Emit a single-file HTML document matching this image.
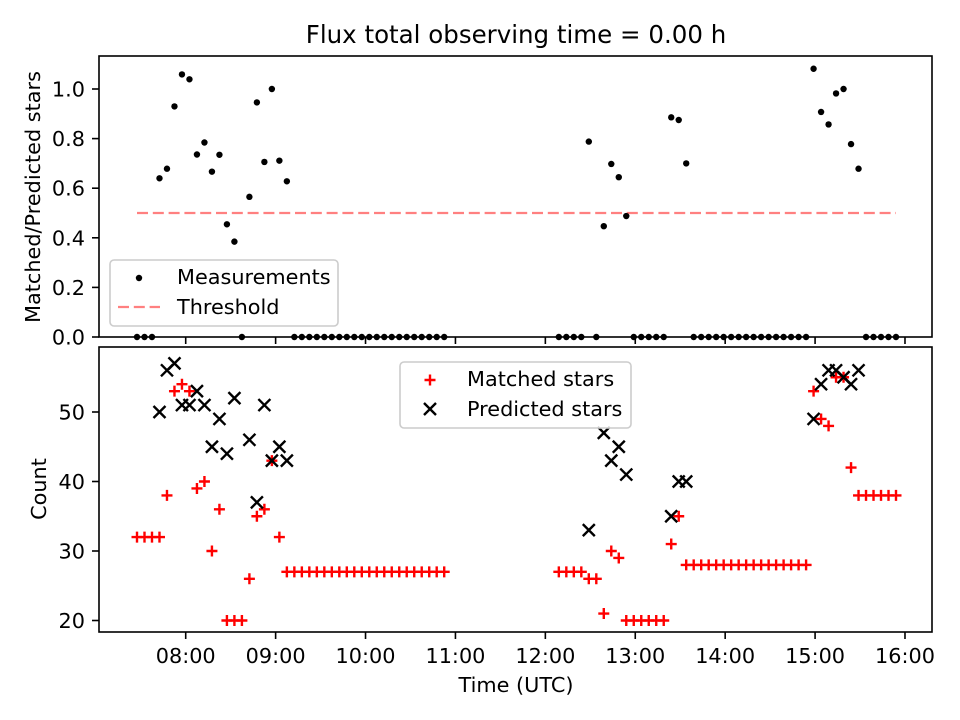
<!DOCTYPE html>
<html><head><meta charset="utf-8"><style>
html,body{margin:0;padding:0;background:#fff;}
svg{display:block;font-family:"DejaVu Sans","Liberation Sans",sans-serif;}
</style></head><body>
<svg id="chart" width="960" height="720" viewBox="0 0 960 720" xmlns="http://www.w3.org/2000/svg">
<rect width="960" height="720" fill="#fff"/>
<text x="516" y="43" font-size="24.5" text-anchor="middle" fill="#000">Flux total observing time = 0.00 h</text>
<g id="topPanel"></g>
<g id="botPanel"></g>
</svg>
<script>
// times in minutes after 07:00
const times = [27.5,32.5,37.5,42.5,47.5,52.5,57.5,62.5,67.5,72.5,77.5,82.5,87.5,92.5,97.5,102.5,107.5,112.5,117.5,122.5,127.5,132.5,137.5,142.5,147.5,152.5,157.5,162.5,167.5,172.5,177.5,182.5,187.5,192.5,197.5,202.5,207.5,212.5,217.5,222.5,227.5,232.5,
309,314,319,324,329,334,339,344,349,354,359,364,369,374,379,384,389,394,399,404,409,414,419,424,429,434,439,444,449,454,459,464,469,474,479,484,489,494,499,504,509,514,519,524,529,534];
const matched = [32,32,32,32,38,53,54,53,39,40,30,36,20,20,20,26,35,36,43,32,27,27,27,27,27,27,27,27,27,27,27,27,27,27,27,27,27,27,27,27,27,27,
27,27,27,27,26,26,21,30,29,20,20,20,20,20,20,31,35,28,28,28,28,28,28,28,28,28,28,28,28,28,28,28,28,28,53,49,48,55,55,42,38,38,38,38,38,38];
const predicted = [0,0,0,50,56,57,51,51,53,51,45,49,44,52,0,46,37,51,43,45,43,0,0,0,0,0,0,0,0,0,0,0,0,0,0,0,0,0,0,0,0,0,
0,0,0,0,33,0,47,43,45,41,0,0,0,0,0,35,40,40,0,0,0,0,0,0,0,0,0,0,0,0,0,0,0,0,49,54,56,56,55,54,56,0,0,0,0,0];
const threshold = 0.5;
const xTickLabels = ["08:00","09:00","10:00","11:00","12:00","13:00","14:00","15:00","16:00"];
const xTickMinutes = [60,120,180,240,300,360,420,480,540];
const topTicks = [0.0,0.2,0.4,0.6,0.8,1.0];
const botTicks = [20,30,40,50];

const NS="http://www.w3.org/2000/svg";
const L=99,R=932, T1=56,B1=337, T2=347,B2=632;
const xS = t => 95.8 + t*1.4985;
const yTop = v => 337 - v*248;
const yBot = v => 620.5 - (v-20)*6.95;
function mk(parent,tag,attrs){const e=document.createElementNS(NS,tag);for(const k in attrs)e.setAttribute(k,attrs[k]);parent.appendChild(e);return e;}
const topG=document.getElementById('topPanel'), botG=document.getElementById('botPanel');

const defs=mk(document.getElementById('chart'),'defs',{});
const c1=mk(defs,'clipPath',{id:'c1'});mk(c1,'rect',{x:L,y:T1-4,width:R-L,height:B1-T1+8});
const c2=mk(defs,'clipPath',{id:'c2'});mk(c2,'rect',{x:L,y:T2,width:R-L,height:B2-T2});

// ---- top panel ----
const thr=mk(topG,'line',{x1:xS(times[0]),x2:xS(times[times.length-1]),y1:yTop(threshold),y2:yTop(threshold),stroke:'#ff8080','stroke-width':2.2,'stroke-dasharray':'11,4.8'});


const g1=mk(topG,'g',{'clip-path':'url(#c1)'});
for(let i=0;i<times.length;i++){
  const r = predicted[i]>0 ? matched[i]/predicted[i] : 0;
  const d=mk(g1,'circle',{cx:xS(times[i]),cy:yTop(r),r:3.2,fill:'#000'});
  
  
}
mk(topG,'rect',{x:L,y:T1,width:R-L,height:B1-T1,fill:'none',stroke:'#000','stroke-width':1.6});
topTicks.forEach(v=>{
  const y=yTop(v);
  mk(topG,'line',{x1:L-7,x2:L,y1:y,y2:y,stroke:'#000','stroke-width':1.6});
  const t=mk(topG,'text',{x:85,y:y+7.5,'font-size':20.8,'text-anchor':'end'});t.textContent=v.toFixed(1);
  
  
});
xTickMinutes.forEach(m=>{const x=xS(m);mk(topG,'line',{x1:x,x2:x,y1:B1,y2:B1+7,stroke:'#000','stroke-width':1.6});});
const yl1=mk(topG,'text',{x:0,y:0,'font-size':20.8,'text-anchor':'middle',transform:'translate(40,197) rotate(-90)'});yl1.textContent='Matched/Predicted stars';


const lg1=mk(topG,'g',{});


mk(lg1,'rect',{x:110,y:260,width:228,height:66,rx:4,fill:'#fff','fill-opacity':0.8,stroke:'#ccc','stroke-width':1.6});
mk(lg1,'circle',{cx:139,cy:278,r:3.2,fill:'#000'});
let tt=mk(lg1,'text',{x:177,y:284,'font-size':20.8});tt.textContent='Measurements';
mk(lg1,'line',{x1:118,x2:160,y1:307,y2:307,stroke:'#ff8080','stroke-width':2.2,'stroke-dasharray':'11,4.8'});
tt=mk(lg1,'text',{x:177,y:314,'font-size':20.8});tt.textContent='Threshold';

// ---- bottom panel ----
const g2=mk(botG,'g',{'clip-path':'url(#c2)'});
for(let i=0;i<times.length;i++){
  const x=xS(times[i]), y=yBot(matched[i]);
  const p=mk(g2,'path',{d:`M${x-5.5},${y}H${x+5.5}M${x},${y-5.5}V${y+5.5}`,stroke:'#f00','stroke-width':2.4,fill:'none'});
  
  
}
for(let i=0;i<times.length;i++){
  if(predicted[i]<=0) continue;
  const x=xS(times[i]), y=yBot(predicted[i]);
  const p=mk(g2,'path',{d:`M${x-6},${y-6}L${x+6},${y+6}M${x-6},${y+6}L${x+6},${y-6}`,stroke:'#000','stroke-width':2.4,fill:'none'});
  
  
}
mk(botG,'rect',{x:L,y:T2,width:R-L,height:B2-T2,fill:'none',stroke:'#000','stroke-width':1.6});
botTicks.forEach(v=>{
  const y=yBot(v);
  mk(botG,'line',{x1:L-7,x2:L,y1:y,y2:y,stroke:'#000','stroke-width':1.6});
  const t=mk(botG,'text',{x:85,y:y+7.5,'font-size':20.8,'text-anchor':'end'});t.textContent=String(v);
  
  
});
xTickMinutes.forEach((m,i)=>{
  const x=xS(m);
  mk(botG,'line',{x1:x,x2:x,y1:B2,y2:B2+7,stroke:'#000','stroke-width':1.6});
  const t=mk(botG,'text',{x:x,y:663,'font-size':20.8,'text-anchor':'middle'});t.textContent=xTickLabels[i];
  
  
});
const xl=mk(botG,'text',{x:516,y:692,'font-size':20.8,'text-anchor':'middle'});xl.textContent='Time (UTC)';


const yl2=mk(botG,'text',{x:0,y:0,'font-size':20.8,'text-anchor':'middle',transform:'translate(46,489) rotate(-90)'});yl2.textContent='Count';


const lg2=mk(botG,'g',{});


mk(lg2,'rect',{x:400,y:362,width:231,height:66,rx:4,fill:'#fff','fill-opacity':0.8,stroke:'#ccc','stroke-width':1.6});
mk(lg2,'path',{d:'M424.5,380H435.5M430,374.5V385.5',stroke:'#f00','stroke-width':2.4});
tt=mk(lg2,'text',{x:467,y:386,'font-size':20.8});tt.textContent='Matched stars';
mk(lg2,'path',{d:'M424,403L436,415M424,415L436,403',stroke:'#000','stroke-width':2.4});
tt=mk(lg2,'text',{x:467,y:416,'font-size':20.8});tt.textContent='Predicted stars';
</script>
</body></html>
